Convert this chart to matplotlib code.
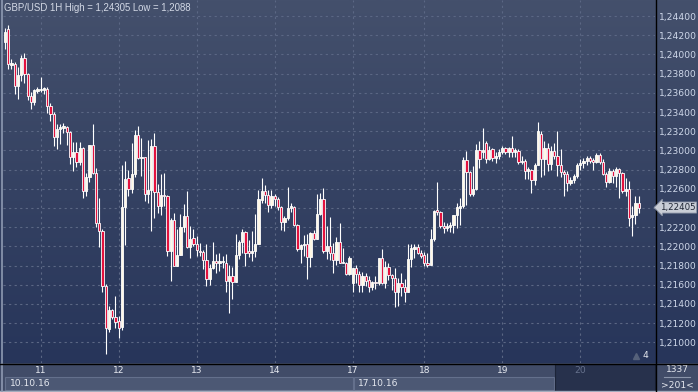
import numpy as np
import matplotlib.pyplot as plt
from matplotlib.patches import Rectangle
from matplotlib.colors import LinearSegmentedColormap
import matplotlib.transforms as mtransforms

# GBP/USD 1H candles, 10.10.16 13:00 .. 20.10.16
opens = [1.2413, 1.2426, 1.2389, 1.2390, 1.2367, 1.2379, 1.2396, 1.2380, 1.2357, 1.2350,
         1.2362, 1.2363, 1.2363, 1.2364, 1.2346, 1.2338, 1.2314, 1.2322, 1.2323, 1.2324,
         1.2319, 1.2293, 1.2298, 1.2288, 1.2303, 1.2258, 1.2272, 1.2306, 1.2276, 1.2224,
         1.2216, 1.2159, 1.2114, 1.2134, 1.2126, 1.2122, 1.2116, 1.2241, 1.2271, 1.2260,
         1.2275, 1.2316, 1.2292, 1.2293, 1.2255, 1.2259, 1.2305, 1.2257, 1.2242, 1.2254,
         1.2253, 1.2195, 1.2227, 1.2180, 1.2191, 1.2220, 1.2232, 1.2199, 1.2209, 1.2203,
         1.2195, 1.2194, 1.2186, 1.2166, 1.2177, 1.2185, 1.2183, 1.2184, 1.2183, 1.2164,
         1.2169, 1.2163, 1.2191, 1.2205, 1.2215, 1.2195, 1.2193, 1.2195, 1.2203, 1.2248,
         1.2258, 1.2254, 1.2243, 1.2253, 1.2249, 1.2241, 1.2225, 1.2230, 1.2240, 1.2241,
         1.2222, 1.2197, 1.2201, 1.2203, 1.2189, 1.2214, 1.2208, 1.2234, 1.2249, 1.2195,
         1.2200, 1.2193, 1.2186, 1.2205, 1.2183, 1.2183, 1.2171, 1.2162, 1.2177, 1.2171,
         1.2160, 1.2169, 1.2165, 1.2158, 1.2163, 1.2162, 1.2188, 1.2162, 1.2179, 1.2170,
         1.2167, 1.2153, 1.2162, 1.2158, 1.2153, 1.2187, 1.2197, 1.2199, 1.2193, 1.2191,
         1.2183, 1.2181, 1.2208, 1.2238, 1.2236, 1.2221, 1.2219, 1.2220, 1.2222, 1.2233,
         1.2240, 1.2242, 1.2290, 1.2277, 1.2255, 1.2260, 1.2300, 1.2298, 1.2308, 1.2291,
         1.2301, 1.2292, 1.2294, 1.2298, 1.2303, 1.2298, 1.2302, 1.2298, 1.2299, 1.2288,
         1.2289, 1.2279, 1.2280, 1.2269, 1.2285, 1.2317, 1.2291, 1.2302, 1.2286, 1.2299,
         1.2294, 1.2285, 1.2277, 1.2275, 1.2266, 1.2269, 1.2273, 1.2285, 1.2287, 1.2289,
         1.2292, 1.2290, 1.2288, 1.2295, 1.2288, 1.2275, 1.2267, 1.2279, 1.2273, 1.2281,
         1.2276, 1.2258, 1.2260, 1.2231, 1.2233, 1.2245]
highs = [1.2427, 1.24305, 1.2395, 1.2392, 1.2387, 1.2399, 1.2401, 1.2381, 1.2361, 1.2364,
         1.2366, 1.2376, 1.2366, 1.2366, 1.2349, 1.2340, 1.2327, 1.2328, 1.2329, 1.2325,
         1.2320, 1.2309, 1.2309, 1.2309, 1.2304, 1.2276, 1.2306, 1.2328, 1.2282, 1.2250,
         1.2218, 1.2161, 1.2138, 1.2135, 1.2148, 1.2127, 1.2285, 1.2289, 1.2280, 1.2308,
         1.2321, 1.2325, 1.2313, 1.2293, 1.2311, 1.2312, 1.2318, 1.2265, 1.2275, 1.2276,
         1.2254, 1.2230, 1.2235, 1.2218, 1.2234, 1.2244, 1.2258, 1.2221, 1.2218, 1.2211,
         1.2204, 1.2196, 1.2203, 1.2182, 1.2205, 1.2192, 1.2193, 1.2190, 1.2192, 1.2181,
         1.2179, 1.2213, 1.2207, 1.2218, 1.2216, 1.2207, 1.2216, 1.2234, 1.2259, 1.2271,
         1.2264, 1.2259, 1.2259, 1.2255, 1.2251, 1.2242, 1.2232, 1.2262, 1.2245, 1.2242,
         1.2223, 1.2203, 1.2212, 1.2213, 1.2215, 1.2217, 1.2255, 1.2256, 1.2261, 1.2221,
         1.2231, 1.2204, 1.2210, 1.2224, 1.2198, 1.2184, 1.2190, 1.2178, 1.2181, 1.2174,
         1.2173, 1.2172, 1.2169, 1.2164, 1.2169, 1.2188, 1.2197, 1.2185, 1.2183, 1.2171,
         1.2177, 1.2167, 1.2172, 1.2166, 1.2202, 1.2202, 1.2203, 1.2202, 1.2196, 1.2194,
         1.2193, 1.2218, 1.2238, 1.2267, 1.2237, 1.2225, 1.2224, 1.2225, 1.2233, 1.2245,
         1.2250, 1.2293, 1.2299, 1.2279, 1.2284, 1.2307, 1.2310, 1.2323, 1.2310, 1.2305,
         1.2303, 1.2298, 1.2301, 1.2305, 1.2304, 1.2304, 1.2315, 1.2303, 1.2301, 1.2294,
         1.2291, 1.2283, 1.2281, 1.2287, 1.2330, 1.2320, 1.2310, 1.2308, 1.2305, 1.2308,
         1.2320, 1.2301, 1.2280, 1.2279, 1.2272, 1.2275, 1.2287, 1.2291, 1.2292, 1.2294,
         1.2294, 1.2292, 1.2297, 1.2297, 1.2291, 1.2277, 1.2282, 1.2281, 1.2283, 1.2282,
         1.2277, 1.2271, 1.2268, 1.2242, 1.2252, 1.2252]
lows = [1.2406, 1.2385, 1.2385, 1.2359, 1.2354, 1.2372, 1.2370, 1.2353, 1.2343, 1.2347,
        1.2360, 1.2361, 1.2359, 1.2339, 1.2331, 1.2305, 1.2301, 1.2307, 1.2318, 1.2306,
        1.2286, 1.2279, 1.2283, 1.2285, 1.2250, 1.2252, 1.2267, 1.2275, 1.2220, 1.2199,
        1.2152, 1.2088, 1.2111, 1.2124, 1.2115, 1.2105, 1.2113, 1.2201, 1.2252, 1.2256,
        1.2272, 1.2291, 1.2273, 1.2247, 1.2245, 1.2216, 1.2230, 1.2235, 1.2233, 1.2242,
        1.2190, 1.2164, 1.2180, 1.2180, 1.2191, 1.2215, 1.2198, 1.2188, 1.2200, 1.2190,
        1.2190, 1.2176, 1.2159, 1.2160, 1.2176, 1.2172, 1.2174, 1.2177, 1.2153, 1.2131,
        1.2145, 1.2163, 1.2187, 1.2193, 1.2180, 1.2189, 1.2185, 1.2189, 1.2202, 1.2245,
        1.2245, 1.2236, 1.2240, 1.2242, 1.2238, 1.2217, 1.2216, 1.2228, 1.2236, 1.2221,
        1.2195, 1.2183, 1.2190, 1.2166, 1.2179, 1.2207, 1.2208, 1.2233, 1.2193, 1.2187,
        1.2186, 1.2172, 1.2181, 1.2183, 1.2183, 1.2170, 1.2170, 1.2152, 1.2162, 1.2152,
        1.2152, 1.2159, 1.2152, 1.2155, 1.2156, 1.2160, 1.2161, 1.2157, 1.2165, 1.2155,
        1.2137, 1.2138, 1.2148, 1.2142, 1.2153, 1.2179, 1.2188, 1.2192, 1.2188, 1.2180,
        1.2179, 1.2181, 1.2206, 1.2233, 1.2219, 1.2214, 1.2216, 1.2215, 1.2214, 1.2219,
        1.2222, 1.2240, 1.2243, 1.2252, 1.2252, 1.2259, 1.2282, 1.2292, 1.2287, 1.2290,
        1.2289, 1.2287, 1.2291, 1.2296, 1.2296, 1.2293, 1.2293, 1.2293, 1.2286, 1.2286,
        1.2270, 1.2270, 1.2256, 1.2264, 1.2285, 1.2272, 1.2274, 1.2279, 1.2280, 1.2291,
        1.2273, 1.2272, 1.2252, 1.2258, 1.2264, 1.2266, 1.2271, 1.2280, 1.2282, 1.2285,
        1.2287, 1.2280, 1.2287, 1.2286, 1.2274, 1.2262, 1.2266, 1.2266, 1.2262, 1.2250,
        1.2256, 1.2252, 1.2221, 1.2211, 1.2223, 1.2235]
closes = [1.2423, 1.2390, 1.2391, 1.2367, 1.2379, 1.2396, 1.2380, 1.2357, 1.2350, 1.2363,
          1.2364, 1.2364, 1.2365, 1.2346, 1.2338, 1.2314, 1.2322, 1.2324, 1.2325, 1.2319,
          1.2293, 1.2298, 1.2288, 1.2303, 1.2258, 1.2272, 1.2306, 1.2276, 1.2224, 1.2216,
          1.2159, 1.2115, 1.2134, 1.2126, 1.2121, 1.2115, 1.2241, 1.2270, 1.2260, 1.2275,
          1.2316, 1.2292, 1.2293, 1.2255, 1.2259, 1.2305, 1.2257, 1.2242, 1.2254, 1.2253,
          1.2195, 1.2227, 1.2180, 1.2191, 1.2220, 1.2232, 1.2199, 1.2208, 1.2203, 1.2196,
          1.2194, 1.2186, 1.2166, 1.2177, 1.2185, 1.2183, 1.2185, 1.2185, 1.2164, 1.2169,
          1.2163, 1.2191, 1.2205, 1.2215, 1.2193, 1.2193, 1.2195, 1.2203, 1.2249, 1.2258,
          1.2254, 1.2243, 1.2253, 1.2249, 1.2241, 1.2225, 1.2230, 1.2240, 1.2242, 1.2222,
          1.2197, 1.2201, 1.2203, 1.2189, 1.2214, 1.2208, 1.2234, 1.2249, 1.2195, 1.2200,
          1.2193, 1.2186, 1.2205, 1.2183, 1.2184, 1.2171, 1.2188, 1.2177, 1.2171, 1.2160,
          1.2169, 1.2164, 1.2158, 1.2163, 1.2162, 1.2188, 1.2162, 1.2179, 1.2170, 1.2167,
          1.2153, 1.2162, 1.2158, 1.2153, 1.2187, 1.2198, 1.2199, 1.2193, 1.2190, 1.2183,
          1.2181, 1.2208, 1.2237, 1.2236, 1.2221, 1.2219, 1.2221, 1.2222, 1.2233, 1.2241,
          1.2242, 1.2290, 1.2277, 1.2255, 1.2260, 1.2300, 1.2291, 1.2300, 1.2291, 1.2300,
          1.2292, 1.2294, 1.2298, 1.2303, 1.2298, 1.2302, 1.2298, 1.2300, 1.2288, 1.2289,
          1.2279, 1.2281, 1.2269, 1.2285, 1.2320, 1.2291, 1.2303, 1.2286, 1.2299, 1.2294,
          1.2285, 1.2277, 1.2275, 1.2266, 1.2269, 1.2273, 1.2285, 1.2287, 1.2289, 1.2292,
          1.2289, 1.2288, 1.2295, 1.2288, 1.2275, 1.2267, 1.2279, 1.2273, 1.2281, 1.2276,
          1.2258, 1.2260, 1.2230, 1.2233, 1.2245, 1.22405]

day_labels = ['11', '12', '13', '14', '17', '18', '19', '20']
day_starts = [11, 35, 59, 83, 107, 129, 153, 177]
price_ticks = [1.210, 1.212, 1.214, 1.216, 1.218, 1.220, 1.222, 1.224, 1.226,
               1.228, 1.230, 1.232, 1.234, 1.236, 1.238, 1.240, 1.242, 1.244]
last_price = 1.22405
title = 'GBP/USD 1H High = 1,24305 Low = 1,2088'

W, H = 698, 392
FONT = 'DejaVu Sans'
FS = 6.6

fig = plt.figure(figsize=(W / 100, H / 100), dpi=100)

# background panel in pixel coordinates
bg = fig.add_axes([0, 0, 1, 1])
bg.set_xlim(0, W)
bg.set_ylim(H, 0)
bg.axis('off')
grad = np.linspace(0, 1, 256).reshape(-1, 1)
cmap = LinearSegmentedColormap.from_list('bg', ['#44506c', '#27355a'])
bg.imshow(grad, extent=(0, W, 363, 0), cmap=cmap, aspect='auto', zorder=0)

# bottom strip
bg.add_patch(Rectangle((0, 363), W, 29, fc='#414c68', ec='none', zorder=1))
bg.add_patch(Rectangle((5, 377), 348, 13, fc='#4c5874', ec='#64708c', lw=0.8, zorder=2))
bg.add_patch(Rectangle((354, 377), 200, 13, fc='#4c5874', ec='#64708c', lw=0.8, zorder=2))
bg.add_patch(Rectangle((555, 364), 100, 27, fc='#27314c', ec='#1c2438', lw=0.8, zorder=2))
bg.text(10, 384, '10.10.16', color='#e6e9f0', fontsize=FS, family=FONT, va='center', zorder=3)
bg.text(358, 384, '17.10.16', color='#e6e9f0', fontsize=FS, family=FONT, va='center', zorder=3)
bg.plot([0, W], [390.5, 390.5], color='#a4acbd', lw=1, zorder=3)
bg.plot([1.5, 1.5], [0, 391], color='#8e9ab2', lw=1.2, zorder=3)
bg.plot([0, W], [363.5, 363.5], color='black', lw=1, zorder=4)
bg.plot([655.5, 655.5], [0, 391], color='black', lw=1, zorder=4)

# bar counter box
bg.text(677, 370, '1337', color='#e6e9f0', fontsize=FS, family=FONT, ha='center', va='center')
bg.plot([664, 690], [377, 377], color='#8c96ab', lw=0.8)
bg.text(677, 385, '>201<', color='#e6e9f0', fontsize=FS, family=FONT, ha='center', va='center')
bg.plot([636], [356], marker='^', color='#55617a', ms=4)
bg.text(645, 356, '4', color='#e6e9f0', fontsize=FS, family=FONT, ha='center', va='center')

# main chart
ax = fig.add_axes([3 / W, 29 / H, 652 / W, 363 / H])
ax.set_facecolor('none')
for s in ax.spines.values():
    s.set_visible(False)
ax.set_xlim(-0.615, 200)
ax.set_ylim(1.207854, 1.245667)

for p in price_ticks:
    ax.axhline(p, color='#5b6784', lw=0.8, ls=(0, (2, 3)), zorder=1)
for d in day_starts:
    ax.axvline(d, color='#5b6784', lw=0.8, ls=(0, (2, 3)), zorder=1)

o = np.array(opens)
h = np.array(highs)
lo = np.array(lows)
c = np.array(closes)
x = np.arange(len(o))
up = c >= o
ax.vlines(x, lo, h, color='white', lw=0.8, zorder=2)
body_bot = np.minimum(o, c)
body_h = np.maximum(np.abs(c - o), 0.00006)
ax.bar(x, body_h, bottom=body_bot, width=0.62,
       color=np.where(up, '#fff8e6', '#e3123e'), edgecolor='white', linewidth=0.6, zorder=3)

# axes labels
ax.yaxis.tick_right()
ax.set_yticks(price_ticks)
ax.set_yticklabels(['' if abs(p - last_price) < 0.0005 else f'{p:.5f}'.replace('.', ',')
                    for p in price_ticks])
ax.tick_params(axis='y', length=0, pad=3, colors='#cfd8ea', labelsize=FS)
ax.set_xticks(day_starts)
ax.set_xticklabels(day_labels)
ax.tick_params(axis='x', length=0, pad=2.5, colors='#e6e9f0', labelsize=FS)
ax.get_xticklabels()[-1].set_color('#66718c')
for t in ax.get_xticklabels() + ax.get_yticklabels():
    t.set_family(FONT)

# current price tag
trans = mtransforms.blended_transform_factory(ax.transAxes, ax.transData)
ax.text(1.0075, last_price, f'{last_price:.5f}'.replace('.', ','), transform=trans,
        color='#1e2433', fontsize=6.2, family=FONT, va='center', ha='left', zorder=5,
        bbox=dict(boxstyle='larrow,pad=0.12', fc='#c9cdd6', ec='#8e96a8', lw=0.6),
        clip_on=False)

ax.text(0.002, 0.993, title, transform=ax.transAxes, color='#d3d9e6',
        fontsize=6.9, family='Liberation Sans', va='top', ha='left')

fig.savefig('out.png', dpi=100)
